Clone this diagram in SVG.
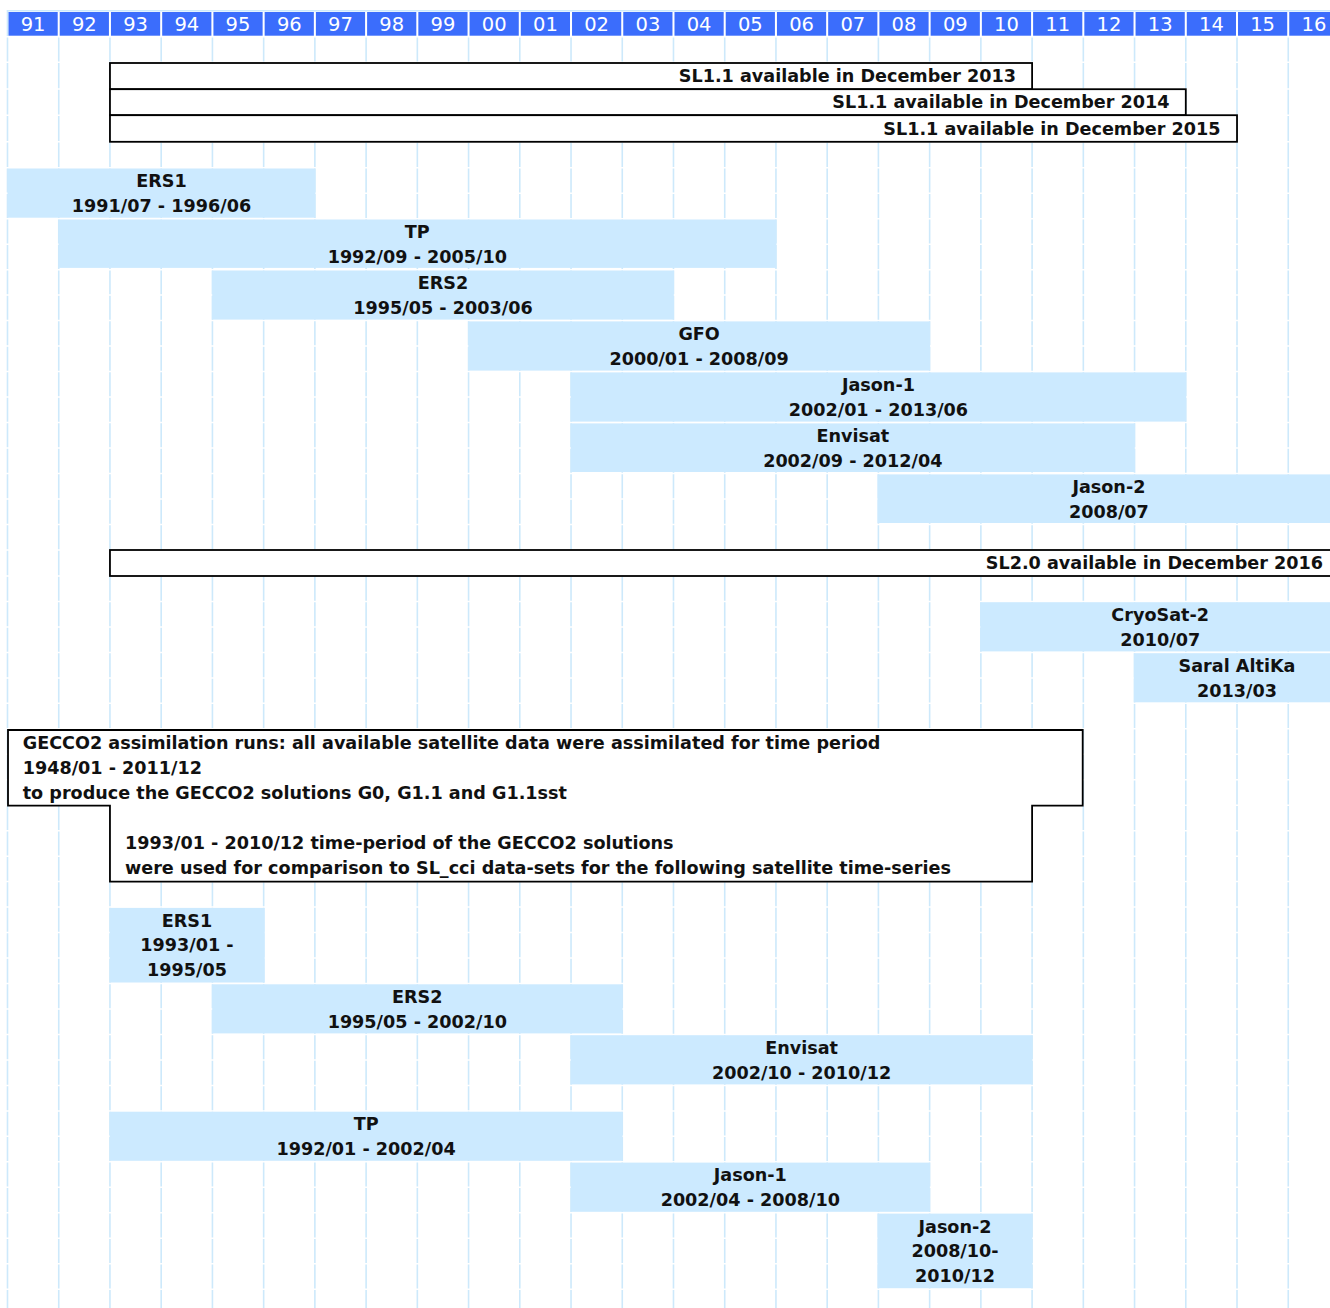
<svg xmlns="http://www.w3.org/2000/svg" width="1330" height="1308" viewBox="0 0 1330 1308">
<style>
.bg{fill:#ffffff}
.grid{stroke:#cde9fb;stroke-width:1.6;fill:none}
.gap{stroke:#ffffff;stroke-width:1.5;fill:none}
.hdr{fill:#3b6dfc}
.ht{font-family:"DejaVu Sans","Liberation Sans",sans-serif;font-size:19.5px;fill:#ffffff;text-anchor:middle}
.bar{fill:#cceaff}
.box{fill:#ffffff;stroke:#000000;stroke-width:1.8}
.t{font-family:"DejaVu Sans","Liberation Sans",sans-serif;font-weight:bold;font-size:17.6px;fill:#111111}
.c{text-anchor:middle}
.r{text-anchor:end}
</style>
<rect class="bg" x="0" y="0" width="1330" height="1308"/>
<g id="grid">
<path class="grid" d="M7.5 10V1308M58.73 37V1308M109.96 37V1308M161.19 37V1308M212.42 37V1308M263.65 37V1308M314.88 37V1308M366.11 37V1308M417.34 37V1308M468.57 37V1308M519.8 37V1308M571.03 37V1308M622.26 37V1308M673.49 37V1308M724.72 37V1308M775.95 37V1308M827.18 37V1308M878.41 37V1308M929.64 37V1308M980.87 37V1308M1032.1 37V1308M1083.33 37V1308M1134.56 37V1308M1185.79 37V1308M1237.02 37V1308M1288.25 37V1308M7 10.8H1330"/>
<path class="gap" d="M0 36.7H1330M0 62.3H1330M0 89H1330M0 115.2H1330M0 141.7H1330M0 167.7H1330M0 193.2H1330M0 218.7H1330M0 244.2H1330M0 269.7H1330M0 295.1H1330M0 320.6H1330M0 346.1H1330M0 371.6H1330M0 397.1H1330M0 422.6H1330M0 448.1H1330M0 473.6H1330M0 499.1H1330M0 524.5H1330M0 550H1330M0 576H1330M0 601.4H1330M0 626.9H1330M0 652.4H1330M0 677.9H1330M0 703.3H1330M0 728.8H1330M0 754.3H1330M0 779.7H1330M0 805.2H1330M0 830.7H1330M0 856.2H1330M0 881.6H1330M0 907.1H1330M0 932.6H1330M0 958H1330M0 983.5H1330M0 1009H1330M0 1034.4H1330M0 1059.9H1330M0 1085.4H1330M0 1110.9H1330M0 1136.3H1330M0 1161.8H1330M0 1187.3H1330M0 1212.8H1330M0 1238.2H1330M0 1263.7H1330M0 1289.2H1330"/>
</g>
<g id="header">
<rect class="hdr" x="8.5" y="12" width="49.2" height="23.7"/>
<rect class="hdr" x="59.73" y="12" width="49.2" height="23.7"/>
<rect class="hdr" x="110.96" y="12" width="49.2" height="23.7"/>
<rect class="hdr" x="162.19" y="12" width="49.2" height="23.7"/>
<rect class="hdr" x="213.42" y="12" width="49.2" height="23.7"/>
<rect class="hdr" x="264.65" y="12" width="49.2" height="23.7"/>
<rect class="hdr" x="315.88" y="12" width="49.2" height="23.7"/>
<rect class="hdr" x="367.11" y="12" width="49.2" height="23.7"/>
<rect class="hdr" x="418.34" y="12" width="49.2" height="23.7"/>
<rect class="hdr" x="469.57" y="12" width="49.2" height="23.7"/>
<rect class="hdr" x="520.8" y="12" width="49.2" height="23.7"/>
<rect class="hdr" x="572.03" y="12" width="49.2" height="23.7"/>
<rect class="hdr" x="623.26" y="12" width="49.2" height="23.7"/>
<rect class="hdr" x="674.49" y="12" width="49.2" height="23.7"/>
<rect class="hdr" x="725.72" y="12" width="49.2" height="23.7"/>
<rect class="hdr" x="776.95" y="12" width="49.2" height="23.7"/>
<rect class="hdr" x="828.18" y="12" width="49.2" height="23.7"/>
<rect class="hdr" x="879.41" y="12" width="49.2" height="23.7"/>
<rect class="hdr" x="930.64" y="12" width="49.2" height="23.7"/>
<rect class="hdr" x="981.87" y="12" width="49.2" height="23.7"/>
<rect class="hdr" x="1033.1" y="12" width="49.2" height="23.7"/>
<rect class="hdr" x="1084.33" y="12" width="49.2" height="23.7"/>
<rect class="hdr" x="1135.56" y="12" width="49.2" height="23.7"/>
<rect class="hdr" x="1186.79" y="12" width="49.2" height="23.7"/>
<rect class="hdr" x="1238.02" y="12" width="49.2" height="23.7"/>
<rect class="hdr" x="1289.25" y="12" width="49.2" height="23.7"/>
<text class="ht" y="30.8"><tspan x="33.1">91</tspan><tspan x="84.3">92</tspan><tspan x="135.6">93</tspan><tspan x="186.8">94</tspan><tspan x="238">95</tspan><tspan x="289.3">96</tspan><tspan x="340.5">97</tspan><tspan x="391.7">98</tspan><tspan x="443">99</tspan><tspan x="494.2">00</tspan><tspan x="545.4">01</tspan><tspan x="596.6">02</tspan><tspan x="647.9">03</tspan><tspan x="699.1">04</tspan><tspan x="750.3">05</tspan><tspan x="801.6">06</tspan><tspan x="852.8">07</tspan><tspan x="904">08</tspan><tspan x="955.3">09</tspan><tspan x="1006.5">10</tspan><tspan x="1057.7">11</tspan><tspan x="1108.9">12</tspan><tspan x="1160.2">13</tspan><tspan x="1211.4">14</tspan><tspan x="1262.6">15</tspan><tspan x="1313.9">16</tspan></text>
</g>
<g id="sl11-2013"><rect class="box" x="109.96" y="63" width="922.14" height="26.2"/><text class="t r" x="1016" y="81.8">SL1.1 available in December 2013</text></g>
<g id="sl11-2014"><rect class="box" x="109.96" y="89.2" width="1075.83" height="26"/><text class="t r" x="1169.5" y="108.2">SL1.1 available in December 2014</text></g>
<g id="sl11-2015"><rect class="box" x="109.96" y="115.2" width="1127.06" height="26.6"/><text class="t r" x="1220.5" y="134.8">SL1.1 available in December 2015</text></g>
<g id="ers1-a"><rect class="bar" x="7.5" y="168.5" width="307.9" height="49.2"/><text class="t c" x="161.5" y="187"><tspan x="161.5">ERS1</tspan><tspan x="161.5" dy="24.8">1991/07 - 1996/06</tspan></text></g>
<g id="tp-a"><rect class="bar" x="58.5" y="219.5" width="717.9" height="48.4"/><text class="t c" y="238"><tspan x="417.3">TP</tspan><tspan x="417.3" dy="24.8">1992/09 - 2005/10</tspan></text></g>
<g id="ers2-a"><rect class="bar" x="212.2" y="270.5" width="461.6" height="49.1"/><text class="t c" y="289"><tspan x="443">ERS2</tspan><tspan x="443" dy="24.8">1995/05 - 2003/06</tspan></text></g>
<g id="gfo-a"><rect class="bar" x="468.3" y="321.4" width="461.7" height="49.2"/><text class="t c" y="339.9"><tspan x="699.1">GFO</tspan><tspan x="699.1" dy="24.8">2000/01 - 2008/09</tspan></text></g>
<g id="jason1-a"><rect class="bar" x="570.8" y="372.4" width="615.3" height="49.2"/><text class="t c" y="390.9"><tspan x="878.4">Jason-1</tspan><tspan x="878.4" dy="24.8">2002/01 - 2013/06</tspan></text></g>
<g id="envisat-a"><rect class="bar" x="570.8" y="423.4" width="564" height="48.6"/><text class="t c" y="441.9"><tspan x="852.8">Envisat</tspan><tspan x="852.8" dy="24.8">2002/09 - 2012/04</tspan></text></g>
<g id="jason2-a"><rect class="bar" x="877.5" y="474.4" width="470" height="48.6"/><text class="t c" y="492.9"><tspan x="1108.9">Jason-2</tspan><tspan x="1108.9" dy="24.8">2008/07</tspan></text></g>
<g id="sl20"><rect class="box" x="109.96" y="550" width="1240" height="26"/><text class="t r" x="1323" y="569.3">SL2.0 available in December 2016</text></g>
<g id="cryosat2"><rect class="bar" x="980.3" y="602.2" width="370" height="49.2"/><text class="t c" y="620.7"><tspan x="1160.2">CryoSat-2</tspan><tspan x="1160.2" dy="24.8">2010/07</tspan></text></g>
<g id="saral"><rect class="bar" x="1133.8" y="653.2" width="220" height="49.1"/><text class="t c" y="671.7"><tspan x="1237">Saral AltiKa</tspan><tspan x="1237" dy="24.8">2013/03</tspan></text></g>
<g id="gecco2"><path class="box" d="M8 730H1082.7V805.7H1032.1V881.7H109.96V805.7H8Z"/>
<text class="t" x="22.7" y="749.3"><tspan x="22.7">GECCO2 assimilation runs: all available satellite data were assimilated for time period</tspan><tspan x="22.7" dy="25">1948/01 - 2011/12</tspan><tspan x="22.7" dy="25">to produce the GECCO2 solutions G0, G1.1 and G1.1sst</tspan></text>
<text class="t" x="125" y="849.3"><tspan x="125">1993/01 - 2010/12 time-period of the GECCO2 solutions</tspan><tspan x="125" dy="25">were used for comparison to SL_cci data-sets for the following satellite time-series</tspan></text></g>
<g id="ers1-b"><rect class="bar" x="109.7" y="907.9" width="155" height="74.6"/><text class="t c" y="926.5"><tspan x="187">ERS1</tspan><tspan x="187" dy="24.8">1993/01 -</tspan><tspan x="187" dy="24.8">1995/05</tspan></text></g>
<g id="ers2-b"><rect class="bar" x="212.2" y="984.3" width="410.3" height="49.1"/><text class="t c" y="1002.8"><tspan x="417.3">ERS2</tspan><tspan x="417.3" dy="24.8">1995/05 - 2002/10</tspan></text></g>
<g id="envisat-b"><rect class="bar" x="570.8" y="1035.2" width="461.6" height="49.2"/><text class="t c" y="1053.7"><tspan x="801.6">Envisat</tspan><tspan x="801.6" dy="24.8">2002/10 - 2010/12</tspan></text></g>
<g id="tp-b"><rect class="bar" x="109.7" y="1111.7" width="512.8" height="49.1"/><text class="t c" y="1130.2"><tspan x="366.1">TP</tspan><tspan x="366.1" dy="24.8">1992/01 - 2002/04</tspan></text></g>
<g id="jason1-b"><rect class="bar" x="570.8" y="1162.6" width="359.1" height="49.2"/><text class="t c" y="1181.1"><tspan x="750.3">Jason-1</tspan><tspan x="750.3" dy="24.8">2002/04 - 2008/10</tspan></text></g>
<g id="jason2-b"><rect class="bar" x="877.5" y="1213.6" width="154.8" height="74.6"/><text class="t c" y="1232.5"><tspan x="955">Jason-2</tspan><tspan x="955" dy="24.6">2008/10-</tspan><tspan x="955" dy="24.6">2010/12</tspan></text></g>
<g id="connectors"></g>
</svg>
